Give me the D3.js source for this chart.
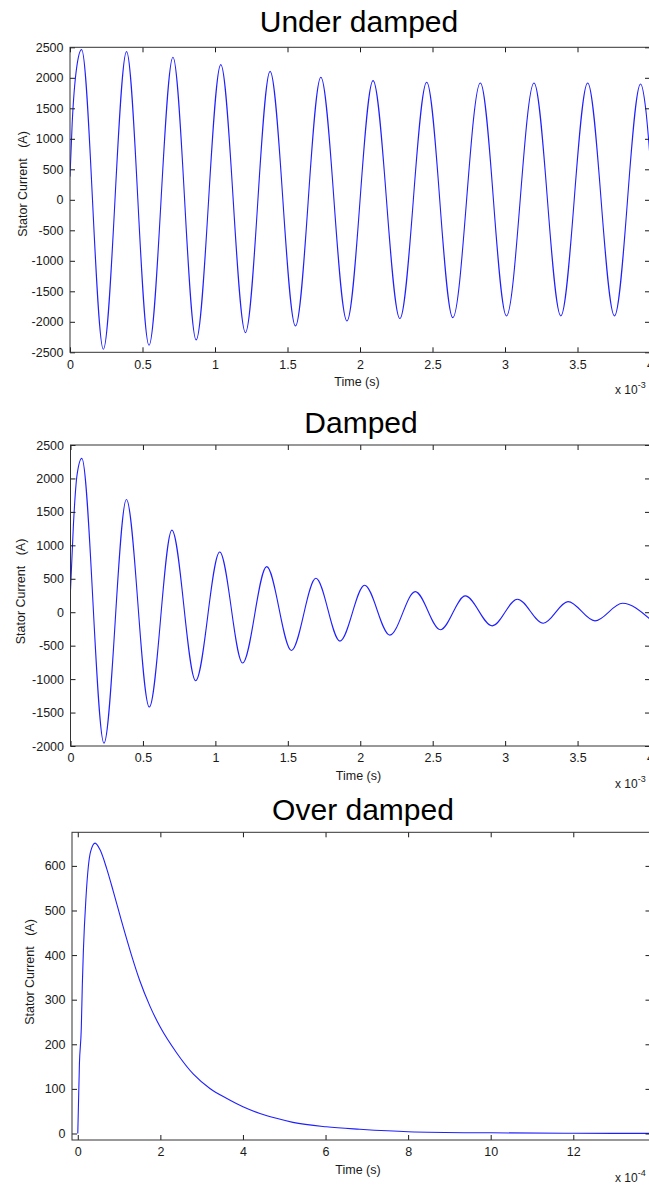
<!DOCTYPE html>
<html>
<head>
<meta charset="utf-8">
<script src="https://cdn.jsdelivr.net/npm/d3@7"></script>
<style>
  html, body { margin: 0; padding: 0; background: #ffffff; }
  svg { display: block; font-family: "Liberation Sans", Arial, Helvetica, sans-serif; }
</style>
</head>
<body>
<svg id="fig" width="649" height="1185"></svg>
<script>
// Stator current transients. Time values are in units of the axis multiplier
// (x 10^-3 s for the oscillatory cases, x 10^-4 s for the over damped case).

// Under damped: initial rise, alternating peaks / troughs, final fall
const underTime    = [0, 0.015, 0.045, 0.08, 0.23, 0.39, 0.545, 0.71, 0.87, 1.04, 1.21, 1.38, 1.555, 1.73, 1.91,
                      2.09, 2.275, 2.46, 2.64, 2.83, 3.01, 3.2, 3.385, 3.57, 3.755, 3.935, 3.97, 4.0];
const underCurrent = [380, 1250, 2150, 2462, -2451, 2429, -2385, 2336, -2297, 2216, -2177, 2106, -2068, 2008, -1986,
                      1953, -1947, 1926, -1931, 1915, -1904, 1915, -1904, 1915, -1904, 1898, 1500, 700];

// Damped
const dampTime     = [0, 0.02, 0.045, 0.078, 0.231, 0.386, 0.544, 0.70, 0.864, 1.03, 1.188, 1.354, 1.525, 1.694, 1.86,
                      2.03, 2.204, 2.38, 2.553, 2.725, 2.911, 3.085, 3.263, 3.434, 3.62, 3.81, 4.0];
const dampCurrent  = [330, 1300, 2050, 2300, -1958, 1685, -1417, 1228, -1024, 900, -760, 681, -572, 507, -432,
                      403, -343, 308, -263, 244, -204, 194, -164, 159, -129, 134, -104];

// Over damped
const overTime     = [0, 0.04, 0.085, 0.11, 0.135, 0.2, 0.255, 0.31, 0.42, 0.54, 0.70, 0.86, 1.06, 1.30,
                      1.5, 1.75, 2.0, 2.4, 2.8, 3.2, 3.6, 4.0, 4.41, 4.81, 5.21, 6.02, 6.83, 8, 10, 12, 13.9];
const overCurrent  = [0, 157, 236, 333, 408, 531, 598, 632, 651, 636, 594, 543, 476, 400,
                      343, 285, 238, 180, 133, 101, 79, 60, 45, 34, 25, 15, 9.5, 4, 1.5, 0.5, 0.2];

// Tick values
const oscTimeTicks   = [0, 0.5, 1, 1.5, 2, 2.5, 3, 3.5, 4];
const overTimeTicks  = [0, 2, 4, 6, 8, 10, 12];
const underTicks     = [-2500, -2000, -1500, -1000, -500, 0, 500, 1000, 1500, 2000, 2500];
const dampTicks      = [-2000, -1500, -1000, -500, 0, 500, 1000, 1500, 2000, 2500];
const overTicks      = [0, 100, 200, 300, 400, 500, 600];

const titles   = ["Under damped", "Damped", "Over damped"];
const yLabel   = "Stator Current   (A)";
const xLabel   = "Time (s)";
const exponents = ["-3", "-3", "-4"];

const svg = d3.select("#fig");
const TICK = 5;
const INK = "#1a1a1a";

function drawPanel(p, idx) {
  const x = d3.scaleLinear().domain(p.xDomain).range(p.xRange);
  const y = d3.scaleLinear().domain(p.yDomain).range(p.yRange);
  const [x0, x1] = p.xRange;
  const [yb, yt] = p.yRange;
  const g = svg.append("g");

  // title
  g.append("text")
    .attr("x", p.titleX).attr("y", p.titleY)
    .attr("text-anchor", "middle")
    .attr("font-size", 30)
    .attr("fill", "#000")
    .text(p.title);

  // curve, clipped to the plot box
  const clipId = "clip" + idx;
  g.append("clipPath").attr("id", clipId)
    .append("rect").attr("x", x0).attr("y", yt).attr("width", x1 - x0).attr("height", yb - yt);

  const line = d3.line()
    .x((d, i) => x(p.time[i]))
    .y(d => y(d))
    .curve(d3.curveMonotoneX);

  g.append("path")
    .datum(p.current)
    .attr("clip-path", `url(#${clipId})`)
    .attr("fill", "none")
    .attr("stroke", "#1f1fff")
    .attr("stroke-width", 1.1)
    .attr("stroke-linejoin", "round")
    .attr("d", line);

  const style = sel => {
    sel.attr("font-family", null).attr("font-size", 12.5).attr("color", INK);
    sel.select(".domain").remove();
  };

  // bottom axis with labels, ticks pointing inward
  g.append("g").attr("transform", `translate(0,${yb})`)
    .call(d3.axisBottom(x).tickValues(p.xTicks).tickSizeInner(-TICK).tickSizeOuter(0)
      .tickPadding(7.6).tickFormat(d => String(d)))
    .call(style);
  // top axis, ticks only
  g.append("g").attr("transform", `translate(0,${yt})`)
    .call(d3.axisTop(x).tickValues(p.xTicks).tickSizeInner(-TICK).tickSizeOuter(0).tickFormat(() => ""))
    .call(style);
  // left axis with labels
  g.append("g").attr("transform", `translate(${x0},0)`)
    .call(d3.axisLeft(y).tickValues(p.yTicks).tickSizeInner(-TICK).tickSizeOuter(0)
      .tickPadding(6.5).tickFormat(d => String(d)))
    .call(style);
  // right axis, ticks only
  g.append("g").attr("transform", `translate(${x1},0)`)
    .call(d3.axisRight(y).tickValues(p.yTicks).tickSizeInner(-TICK).tickSizeOuter(0).tickFormat(() => ""))
    .call(style);

  // plot box
  g.append("rect")
    .attr("x", x0).attr("y", yt).attr("width", x1 - x0).attr("height", yb - yt)
    .attr("fill", "none").attr("stroke", "#333").attr("stroke-width", 1);

  // axis titles
  g.append("text")
    .attr("x", p.timeX).attr("y", p.timeY)
    .attr("text-anchor", "middle").attr("font-size", 12.5).attr("fill", INK)
    .text(xLabel);

  g.append("text")
    .attr("transform", `translate(${p.ylabX},${p.ylabY}) rotate(-90)`)
    .attr("text-anchor", "middle").attr("font-size", 12.5).attr("fill", INK)
    .style("white-space", "pre")
    .text(yLabel);

  // axis multiplier
  const m = g.append("text")
    .attr("x", 615).attr("y", p.timeY + 8)
    .attr("font-size", 12).attr("fill", INK)
    .style("white-space", "pre");
  m.append("tspan").text("x 10");
  m.append("tspan").attr("dy", -6).attr("font-size", 9).text(p.exponent);
}

const panels = [
  {
    title: titles[0], titleX: 359, titleY: 31.5,
    time: underTime, current: underCurrent,
    xDomain: [0, 4], xRange: [70, 650],
    yDomain: [-2500, 2500], yRange: [352.3, 47.3],
    xTicks: oscTimeTicks, yTicks: underTicks,
    timeX: 357, timeY: 386, ylabX: 26.5, ylabY: 184,
    exponent: exponents[0]
  },
  {
    title: titles[1], titleX: 361, titleY: 432.5,
    time: dampTime, current: dampCurrent,
    xDomain: [0, 4], xRange: [70.5, 650],
    yDomain: [-2000, 2500], yRange: [746, 445],
    xTicks: oscTimeTicks, yTicks: dampTicks,
    timeX: 358.5, timeY: 780, ylabX: 25, ylabY: 591.5,
    exponent: exponents[1]
  },
  {
    title: titles[2], titleX: 363, titleY: 819.5,
    time: overTime, current: overCurrent,
    xDomain: [-0.14, 13.87], xRange: [72, 650.5],
    yDomain: [-14.6, 675.3], yRange: [1140, 832.3],
    xTicks: overTimeTicks, yTicks: overTicks,
    timeX: 358, timeY: 1174, ylabX: 34, ylabY: 972,
    exponent: exponents[2]
  }
];

panels.forEach(drawPanel);
</script>
</body>
</html>
